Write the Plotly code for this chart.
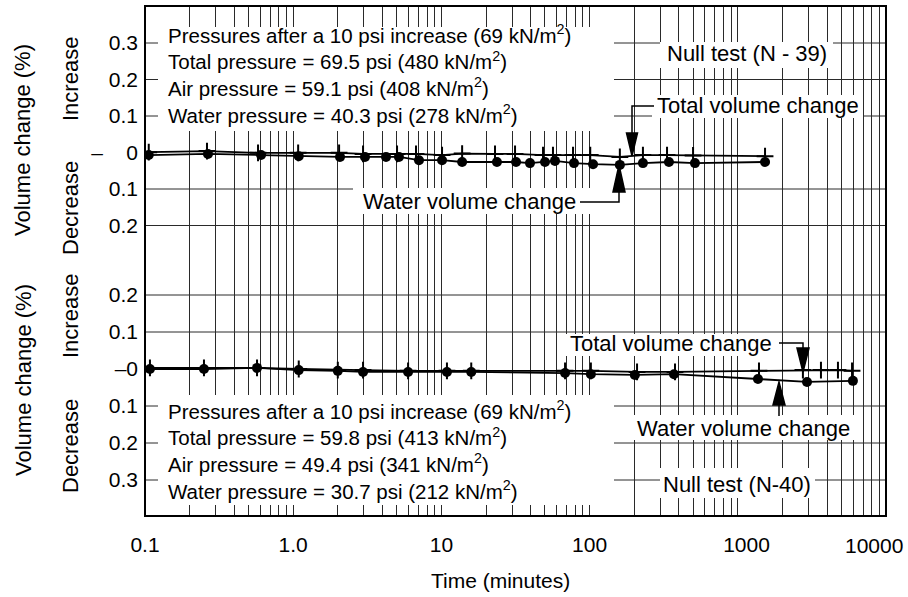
import math
import plotly.graph_objects as go

# ---------------- data ----------------
# Top panel: Null test (N - 39)
top_time_water = [0.106, 0.266, 0.607, 1.09, 2.07, 3.05, 4.23, 5.17, 7.06, 10.1, 13.8, 23.7,
                  31.9, 39.6, 50.0, 58.4, 78.5, 105.5, 160, 229, 343, 514, 1527]
top_water = [-0.007, -0.004, -0.007, -0.010, -0.012, -0.012, -0.012, -0.012, -0.021, -0.021,
             -0.026, -0.026, -0.026, -0.029, -0.026, -0.023, -0.029, -0.032, -0.034, -0.029,
             -0.026, -0.029, -0.026]
top_time_total = [0.106, 0.262, 0.579, 1.08, 2.04, 2.96, 5.02, 6.74, 10.1, 13.8, 23.0, 31.4,
                  48.5, 56.6, 77.3, 101, 160, 229, 333, 499, 1527]
top_total = [0.001, 0.004, -0.001, -0.001, -0.001, -0.004, -0.004, -0.004, -0.007, -0.003,
             -0.004, -0.004, -0.007, -0.007, -0.007, -0.007, -0.012, -0.007, -0.007, -0.008,
             -0.010]

# Bottom panel: Null test (N-40)
bot_time_water = [0.108, 0.25, 0.57, 1.09, 2.0, 2.96, 5.96, 10.9, 15.9, 68.3, 102, 202, 371,
                  1368, 2930, 5980]
bot_water = [0.0, 0.0, 0.003, -0.003, -0.005, -0.008, -0.008, -0.008, -0.008, -0.011, -0.014,
             -0.016, -0.014, -0.027, -0.035, -0.032]
bot_time_total = [0.108, 0.25, 0.57, 1.09, 2.0, 2.96, 5.96, 10.9, 15.9, 68.3, 102, 209, 377,
                  1390, 2750, 3640, 4740, 5900]
bot_total = [0.003, 0.003, 0.003, 0.0, -0.003, -0.003, -0.005, -0.005, -0.005, -0.005, -0.005,
             -0.008, -0.008, -0.005, -0.003, -0.003, -0.003, -0.005]

# tick labels
x_tick_vals = [0.1, 1, 10, 100, 1000, 10000]
x_tick_text = ["0.1", "1.0", "10", "100", "\u00a0\u00a0\u00a01000", "10000"]
top_tick_vals = [0.3, 0.2, 0.1, 0, -0.1, -0.2]
top_tick_text = ["0.3", "0.2", "0.1", "\u2013\u00a0\u00a0\u00a0\u00a00", "0.1", "0.2"]
bot_tick_vals = [0.2, 0.1, 0, -0.1, -0.2, -0.3]
bot_tick_text = ["0.2", "0.1", "\u20130", "0.1", "0.2", "0.3"]
top_grid = [0.3, 0.2, 0.1, -0.1, -0.2]
bot_grid = [0.2, 0.1, -0.1, -0.2, -0.3]

top_block = ["Pressures after a 10 psi increase (69 kN/m<sup>2</sup>)",
             "Total pressure = 69.5 psi (480 kN/m<sup>2</sup>)",
             "Air pressure = 59.1 psi (408 kN/m<sup>2</sup>)",
             "Water pressure = 40.3 psi (278 kN/m<sup>2</sup>)"]
bot_block = ["Pressures after a 10 psi increase (69 kN/m<sup>2</sup>)",
             "Total pressure = 59.8 psi (413 kN/m<sup>2</sup>)",
             "Air pressure = 49.4 psi (341 kN/m<sup>2</sup>)",
             "Water pressure = 30.7 psi (212 kN/m<sup>2</sup>)"]

# ---------------- layout helpers (pixel -> paper) ----------------
W, H = 908, 597
L, R, T, B = 145, 886, 6, 516
FONT = "Liberation Sans, Arial, Helvetica, sans-serif"
FS = 22
BFS = 21.5
TFS = 21


def px(x):
    return (x - L) / (R - L)


def py(y):
    return (B - y) / (B - T)


split = py(258)

# minor x grid values (2..9 multiples per decade)
minor_vals = [m * 10 ** e for e in range(-1, 4) for m in range(2, 10)]

fig = go.Figure()


def add_series(t, v, yax, symbol):
    if symbol == "circle":
        marker = dict(symbol="circle", size=10, color="black")
    else:
        marker = dict(symbol="cross-thin", size=12, color="black",
                      line=dict(width=2, color="black"))
    fig.add_trace(go.Scatter(x=t, y=v, xaxis="x", yaxis=yax, mode="lines+markers",
                             line=dict(color="black", width=1.8), marker=marker,
                             showlegend=False, hoverinfo="skip"))


add_series(top_time_total, top_total, "y", "cross")
add_series(top_time_water, top_water, "y", "circle")
add_series(bot_time_total, bot_total, "y2", "cross")
add_series(bot_time_water, bot_water, "y2", "circle")

GRID = "#2a2a2a"
shapes = []
for g in top_grid:
    shapes.append(dict(type="line", xref="paper", yref="y", x0=0, x1=1, y0=g, y1=g,
                       line=dict(color=GRID, width=1), layer="below"))
for g in bot_grid:
    shapes.append(dict(type="line", xref="paper", yref="y2", x0=0, x1=1, y0=g, y1=g,
                       line=dict(color=GRID, width=1), layer="below"))


def white_box(x0, y0, x1, y1):
    shapes.append(dict(type="rect", xref="paper", yref="paper", x0=px(x0), x1=px(x1),
                       y0=py(y1), y1=py(y0), fillcolor="white", line=dict(width=0),
                       layer="above"))


white_box(158, 27, 614, 131)     # top text block
white_box(660, 42, 833, 68)      # Null test N-39
white_box(652, 95, 863, 118)     # top total label
white_box(353, 188, 617, 214)    # top water label
white_box(158, 395, 614, 505)    # bottom text block
white_box(566, 334, 777, 356)    # bottom total label
white_box(630, 415, 857, 440)    # bottom water label
white_box(660, 468, 815, 498)    # Null test N-40


def poly(points, closed=False):
    d = "M " + " L ".join(f"{px(x):.5f},{py(y):.5f}" for x, y in points)
    if closed:
        d += " Z"
    shapes.append(dict(type="path", xref="paper", yref="paper", path=d,
                       line=dict(color="black", width=1.5),
                       fillcolor="black" if closed else None, layer="above"))


# top total arrow (down)
poly([(654, 106), (632, 106), (632, 136)])
poly([(626.5, 133), (637.5, 133), (632, 156)], closed=True)
# top water arrow (up)
poly([(580, 202), (619, 202), (619, 190)])
poly([(613, 192), (625, 192), (619, 165)], closed=True)
# bottom total arrow (down)
poly([(779, 343), (803, 343), (803, 350)])
poly([(797, 348), (809, 348), (803, 372)], closed=True)
# bottom water arrow (up)
poly([(779, 416), (779, 400)])
poly([(773, 405), (785, 405), (779, 382)], closed=True)

# frame
shapes.append(dict(type="rect", xref="paper", yref="paper", x0=0, x1=1, y0=0, y1=1,
                   line=dict(color="black", width=2), layer="above"))

ann = []


def text(s, x, y, xanchor="left", angle=0, size=FS, align="left"):
    ann.append(dict(text=s, x=px(x), y=py(y), xref="paper", yref="paper", showarrow=False,
                    xanchor=xanchor, yanchor="middle", textangle=angle, align=align,
                    font=dict(family=FONT, size=size, color="black")))


# pressure blocks (one multi-line text each)
text("<br>".join(top_block), 166, 74.5, size=20.5)
text("<br>".join(bot_block), 166, 449.5, size=20.5)
text("Null test (N - 39)", 747, 53, "center")
text("Total volume change", 655, 106)
text("Water volume change", 578, 202, "right")
text("Total volume change", 774, 343, "right")
text("Water volume change", 743, 428, "center")
text("Null test (N-40)", 737, 484, "center")
text("Volume change (%)", 23, 140, "center", -90)
text("Volume change (%)", 23, 380, "center", -90)
text("Increase", 70, 79, "center", -90)
text("Decrease", 70, 208, "center", -90)
text("Increase", 70, 316, "center", -90)
text("Decrease", 70, 446, "center", -90)
text("Time (minutes)", 500, 580, "center", 0, 21)

# last x tick label (at the right frame) drawn on the x axis, nudged inside the page
ann.append(dict(text=x_tick_text[-1], x=math.log10(x_tick_vals[-1]), xref="x",
                y=py(545), yref="paper", xshift=-12, showarrow=False,
                xanchor="center", yanchor="middle",
                font=dict(family=FONT, size=TFS, color="black")))

fig.update_layout(
    width=W, height=H,
    margin=dict(l=L, r=W - R, t=T, b=H - B, pad=0, autoexpand=False),
    paper_bgcolor="white", plot_bgcolor="white",
    font=dict(family=FONT, size=FS, color="black"),
    showlegend=False,
    xaxis=dict(type="log", range=[-1, 4], anchor="y2", tickmode="array",
               tickvals=x_tick_vals[:-1], ticktext=x_tick_text[:-1], showgrid=True,
               gridcolor=GRID, gridwidth=1, ticks="", zeroline=False, showline=False,
               automargin=False,
               minor=dict(tickmode="array", tickvals=minor_vals, showgrid=True,
                          gridcolor=GRID, gridwidth=1, ticks=""),
               tickfont=dict(family=FONT, size=TFS, color="black"), ticklabelstandoff=14),
    yaxis=dict(domain=[split, 1], range=[(152.5 - 258) / 365, (152.5 - 6) / 365],
               anchor="x", tickmode="array", tickvals=top_tick_vals, ticktext=top_tick_text,
               showgrid=False, zeroline=False, showline=False, ticks="", automargin=False,
               tickfont=dict(family=FONT, size=TFS, color="black"), ticklabelstandoff=6),
    yaxis2=dict(domain=[0, split], range=[(369 - 516) / 370, (369 - 258) / 370],
                anchor="x", tickmode="array", tickvals=bot_tick_vals, ticktext=bot_tick_text,
                showgrid=False, zeroline=False, showline=False, ticks="", automargin=False,
                tickfont=dict(family=FONT, size=TFS, color="black"), ticklabelstandoff=6),
    shapes=shapes,
    annotations=ann,
)

fig.write_html("out.html")
